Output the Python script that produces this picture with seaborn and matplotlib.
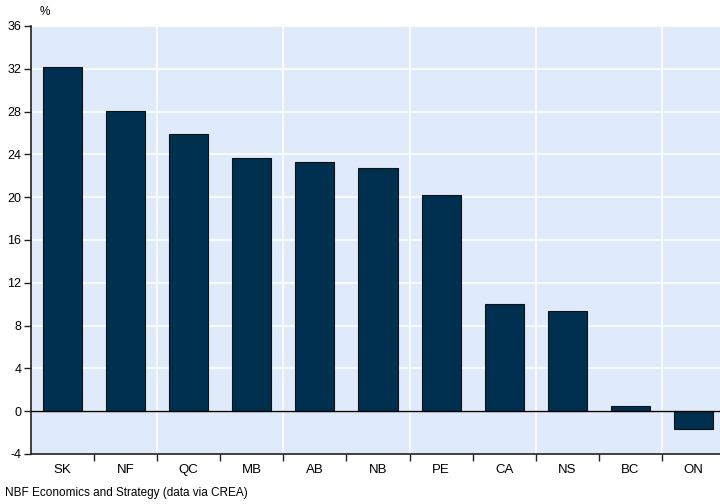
import matplotlib
matplotlib.use("Agg")
import matplotlib.pyplot as plt
import seaborn as sns
import pandas as pd

# Provinces and year-over-year change (%)
provinces = ["SK", "NF", "QC", "MB", "AB", "NB", "PE", "CA", "NS", "BC", "ON"]
changes = [32.2, 28.1, 25.9, 23.7, 23.3, 22.7, 20.2, 10.0, 9.4, 0.5, -1.65]
y_ticks = [-4, 0, 4, 8, 12, 16, 20, 24, 28, 32, 36]
source_note = "NBF Economics and Strategy (data via CREA)"

df = pd.DataFrame({"province": provinces, "change": changes})

plt.rcParams["font.family"] = ["Liberation Sans", "DejaVu Sans"]

fig = plt.figure(figsize=(7.2, 5.04), dpi=100)
ax = fig.add_axes([31 / 720, 50 / 504, 1 - 31 / 720, (454 - 26) / 504])
ax.set_facecolor("#dfeafb")

sns.barplot(data=df, x="province", y="change", order=provinces,
            color="#00304f", saturation=1, width=0.62,
            edgecolor="#111111", linewidth=0.8, ax=ax, zorder=3)

n = len(provinces)
ax.set_xlim(-0.5, n - 0.5 - 5 / 63)
ax.set_ylim(-4, 36)
ax.set_yticks(y_ticks)
ax.set_yticklabels([str(t) for t in y_ticks], fontsize=9)

# category labels centered, ticks on the category boundaries
ax.set_xticks(range(n))
ax.set_xticklabels(provinces, fontsize=9.5)
ax.tick_params(axis="x", which="major", length=0, pad=7)
ax.set_xticks([i + 0.5 for i in range(n - 1)], minor=True)
ax.tick_params(axis="x", which="minor", length=5, width=1, direction="out",
               color="#222222")
ax.tick_params(axis="y", length=5, width=1, direction="out", color="#222222",
               pad=2)

ax.set_xlabel("")
ax.set_ylabel("")

# white grid: every 4 on y, every other category boundary on x
for t in y_ticks[1:]:
    ax.axhline(t, color="white", linewidth=1.2, zorder=1)
for b in [1.5, 3.5, 5.5, 7.5, 9.5]:
    ax.axvline(b, color="white", linewidth=1.2, zorder=1)
ax.grid(False)
ax.axhline(0, color="black", linewidth=1.0, zorder=4)

for side in ["top", "right"]:
    ax.spines[side].set_visible(False)
for side in ["left", "bottom"]:
    ax.spines[side].set_color("#222222")
    ax.spines[side].set_linewidth(1.2)

fig.text(45 / 720, 1 - 12 / 504, "%", fontsize=8.5, ha="center", va="center")
fig.text(5 / 720, 1 - 493 / 504, source_note, fontsize=8.5, ha="left",
         va="center")

fig.savefig("out.png", dpi=100, facecolor="white")
